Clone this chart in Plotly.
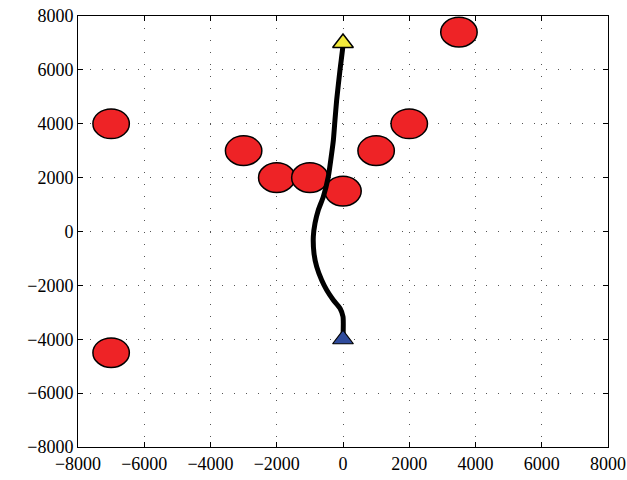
import plotly.graph_objects as go

# obstacle centres (data units) and radius
obs_x = [-7000, -7000, -3000, -2000, -1000, 0, 1000, 2000, 3500]
obs_y = [4000, -4500, 3000, 2000, 2000, 1500, 3000, 4000, 7400]
obs_r = 550

# path
path_x = [0, 0, -91, -293, -493, -645, -795, -876, -896, -845, -745, -594, -444, -342, -290, -242, -191, -91, -10, 0]
path_y = [-4000, -3162, -2851, -2543, -2171, -1800, -1306, -810, -193, 304, 798, 1292, 2034, 2903, 3400, 4139, 4880, 5995, 6800, 7000]

start_pt = (0, -4000)
goal_pt = (0, 7000)

ticks = [-8000, -6000, -4000, -2000, 0, 2000, 4000, 6000, 8000]

FONT = "Liberation Serif"

fig = go.Figure()

fig.add_trace(go.Scatter(x=path_x, y=path_y, mode="lines",
                         line=dict(color="black", width=5, shape="spline", smoothing=0.6),
                         showlegend=False, hoverinfo="skip"))
fig.add_trace(go.Scatter(x=[goal_pt[0]], y=[goal_pt[1]], mode="markers",
                         marker=dict(symbol="triangle-up", size=18, color="#f3ea3b",
                                     line=dict(color="black", width=1.5)),
                         showlegend=False))
fig.add_trace(go.Scatter(x=[start_pt[0]], y=[start_pt[1]], mode="markers",
                         marker=dict(symbol="triangle-up", size=18, color="#2f4b9c",
                                     line=dict(color="black", width=1.2)),
                         showlegend=False))

for cx, cy in zip(obs_x, obs_y):
    fig.add_shape(type="circle", xref="x", yref="y",
                  x0=cx - obs_r, x1=cx + obs_r, y0=cy - obs_r, y1=cy + obs_r,
                  fillcolor="#ee2326", line=dict(color="black", width=1.5),
                  layer="between")

axis_common = dict(
    tickmode="array", tickvals=ticks, automargin=False,
    showgrid=True, gridcolor="#555555", griddash="1px,11px", gridwidth=1.2,
    zeroline=False, showline=True, linecolor="black", linewidth=1, mirror="ticks",
    ticks="inside", ticklen=5, tickcolor="black",
    tickfont=dict(family=FONT, size=18, color="black"),
)

fig.update_xaxes(range=[-8000, 8000], **axis_common)
fig.update_yaxes(range=[-8000, 8000], **axis_common)

fig.update_layout(
    width=627, height=480,
    margin=dict(l=78, r=19, t=16, b=33),
    plot_bgcolor="white", paper_bgcolor="white",
    font=dict(family=FONT, size=18, color="black"),
)

fig.write_html("out.html", config={"displayModeBar": False},
               post_script="document.body.style.margin='0';document.body.style.padding='0';")
